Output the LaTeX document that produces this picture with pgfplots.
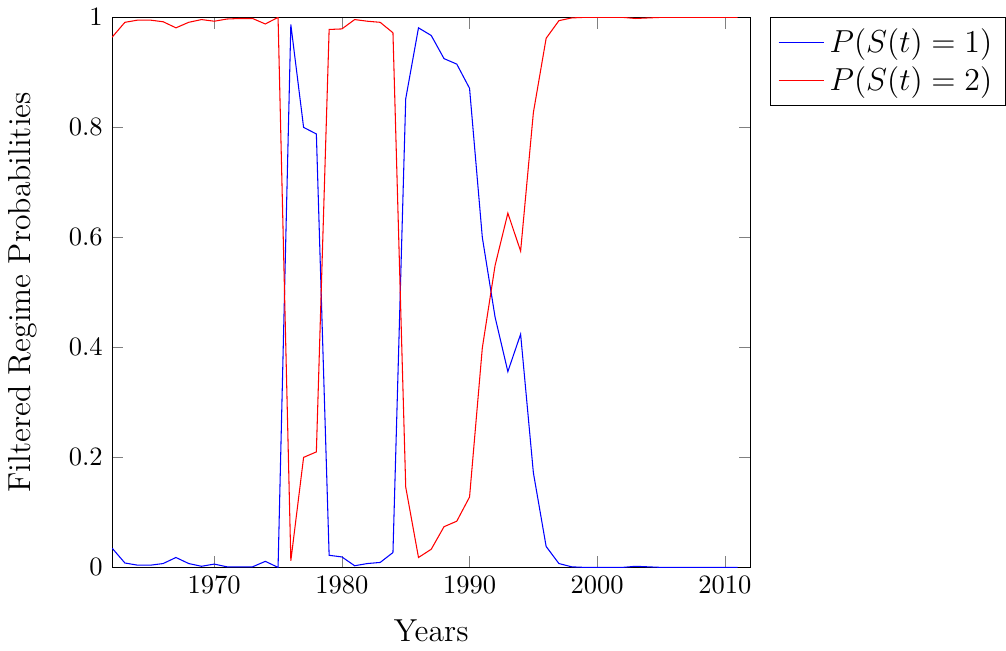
\documentclass[border=0pt]{standalone}
\usepackage{pgfplots}
\usepackage{pgfplotstable}
\pgfplotsset{compat=1.18}

% filtered probabilities of the two regimes, one row per year
\pgfplotstableread{
year  p1     p2
1962  0.035  0.964
1963  0.008  0.991
1964  0.004  0.995
1965  0.004  0.995
1966  0.007  0.992
1967  0.018  0.981
1968  0.007  0.991
1969  0.002  0.996
1970  0.006  0.993
1971  0.001  0.997
1972  0.001  0.998
1973  0.001  0.998
1974  0.011  0.988
1975  0.000  1.000
1976  0.987  0.012
1977  0.800  0.200
1978  0.788  0.210
1979  0.022  0.978
1980  0.019  0.979
1981  0.003  0.996
1982  0.007  0.993
1983  0.009  0.991
1984  0.027  0.972
1985  0.852  0.146
1986  0.981  0.018
1987  0.967  0.033
1988  0.925  0.074
1989  0.915  0.084
1990  0.871  0.128
1991  0.600  0.399
1992  0.455  0.549
1993  0.356  0.644
1994  0.424  0.575
1995  0.172  0.827
1996  0.038  0.962
1997  0.007  0.994
1998  0.001  0.999
1999  0.000  1.000
2000  0.000  1.000
2001  0.000  1.000
2002  0.000  1.000
2003  0.002  0.998
2004  0.001  0.999
2005  0.000  1.000
2006  0.000  1.000
2007  0.000  1.000
2008  0.000  1.000
2009  0.000  1.000
2010  0.000  1.000
2011  0.000  1.000
}\probs

\begin{document}
\begin{tikzpicture}
\begin{axis}[
  scale only axis,
  width=240.8pt, height=207.5pt,
  xmin=1962, xmax=2012, ymin=0, ymax=1,
  xtick={1970,1980,1990,2000,2010},
  xticklabel style={/pgf/number format/1000 sep=},
  ytick={0,0.2,0.4,0.6,0.8,1},
  xlabel={Years}, ylabel={Filtered Regime Probabilities},
  label style={font=\large},
  xlabel style={yshift=-3pt},
  ylabel style={yshift=5pt},
  legend pos=outer north east,
  legend style={font=\large},
  legend cell align=left,
]
\addplot[blue, no marks] table[x=year, y=p1] {\probs};
\addlegendentry{$P(S(t)=1)$}
\addplot[red, no marks] table[x=year, y=p2] {\probs};
\addlegendentry{$P(S(t)=2)$}
\end{axis}
\end{tikzpicture}
\end{document}
